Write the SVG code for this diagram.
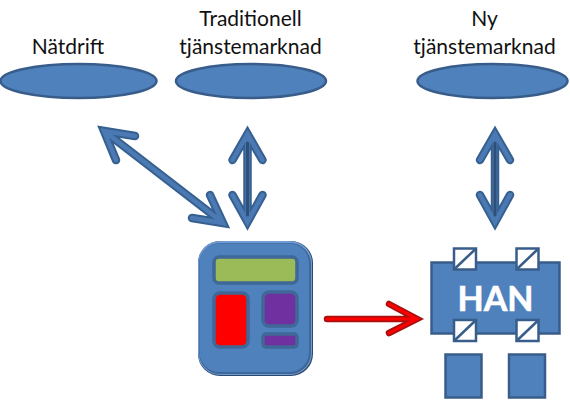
<svg xmlns="http://www.w3.org/2000/svg" width="570" height="401" viewBox="0 0 570 401">
<style>
text{font-family:"Lato","Liberation Sans",sans-serif;font-size:21px;fill:#111;text-anchor:middle}
.s{fill:#4f81bd;stroke:#385d8a;stroke-width:2.5}
.in{stroke:#3f6797;stroke-width:3.5;stroke-linejoin:round}
.a0,.a1,.a2{fill:none;stroke-linecap:round;stroke-linejoin:miter;stroke-miterlimit:10}
.a0{stroke:#36608f;stroke-width:8.500}
.a1{stroke:#4a79b3;stroke-width:4.500}
.a2{stroke:#2f4f78;stroke-width:3}
.r0,.r1{fill:none;stroke-linecap:round;stroke-linejoin:miter;stroke-miterlimit:10}
.r0{stroke:#a80f0f;stroke-width:6.500}
.r1{stroke:#f00;stroke-width:3}
.p{fill:#fff;stroke:#385d8a;stroke-width:2.500}
</style>
<defs>
<g id="port"><rect class="p" x="0" y="0" width="22" height="21"/><path d="M1 20L21 1" stroke="#385d8a" stroke-width="2.500" fill="none"/></g>
<g id="va">
<path class="a0" d="M0 5V90M-15 29L0 3L15 29M-15 64L0 91L15 64"/>
<path class="a1" d="M0 5V90M-15 29L0 3L15 29M-15 64L0 91L15 64"/>
<path class="a2" d="M0 12V84"/>
</g>
</defs>
<g id="natdrift"><ellipse class="s" cx="78.500" cy="81" rx="78" ry="17"/><text x="68" y="54">Nätdrift</text></g>
<g id="traditionell"><ellipse class="s" cx="251" cy="81" rx="75" ry="17"/><text x="250.500" y="26">Traditionell</text><text x="250.500" y="54">tjänstemarknad</text></g>
<g id="ny"><ellipse class="s" cx="492.500" cy="81" rx="75" ry="17"/><text x="484.500" y="26">Ny</text><text x="484.500" y="54">tjänstemarknad</text></g>
<g id="meter">
<rect x="198" y="241" width="115" height="135" rx="22" fill="#2c4a6e"/>
<rect x="198" y="241" width="114" height="134" rx="22" fill="#6f9bd2"/>
<rect x="199" y="243" width="112" height="131" rx="21" fill="#3f6797"/>
<rect x="199.500" y="243.500" width="109.500" height="128.500" rx="20" fill="#4f81bd"/>
<rect class="in" x="214" y="257" width="83" height="26" rx="5" fill="#9bbb59"/>
<rect class="in" x="214" y="293" width="34" height="54" rx="6" fill="#f00"/>
<rect class="in" x="263" y="292" width="34" height="34" rx="6" fill="#7030a0"/>
<rect class="in" x="263" y="334" width="34" height="13" rx="3" fill="#7030a0"/>
</g>
<g id="han">
<rect class="s" x="431.500" y="262.500" width="128" height="71" stroke-width="3"/>
<text x="495.500" y="311" stroke="#fff" stroke-width="0.600" style="font-size:34px;font-weight:700;fill:#fff">HAN</text>
<use href="#port" x="454" y="248.500"/><use href="#port" x="516.500" y="248.500"/>
<use href="#port" x="454" y="320"/><use href="#port" x="516.500" y="320"/>
<rect class="s" x="445.500" y="354.500" width="36" height="43"/>
<rect class="s" x="509" y="354.500" width="36" height="43"/>
</g>
<g id="connectors">
<use href="#va" x="247.500" y="131"/>
<use href="#va" x="495" y="131"/>
<path class="a0" d="M104 131L222 222M135 136L104 131L116 160M210 195L223 223L192 218"/>
<path class="a1" d="M104 131L222 222M135 136L104 131L116 160M210 195L223 223L192 218"/>
<path class="r0" d="M327 319H416M389 304L417 319L389 333"/>
<path class="r1" d="M327 319H416M389 304L417 319L389 333"/>
</g>
</svg>
